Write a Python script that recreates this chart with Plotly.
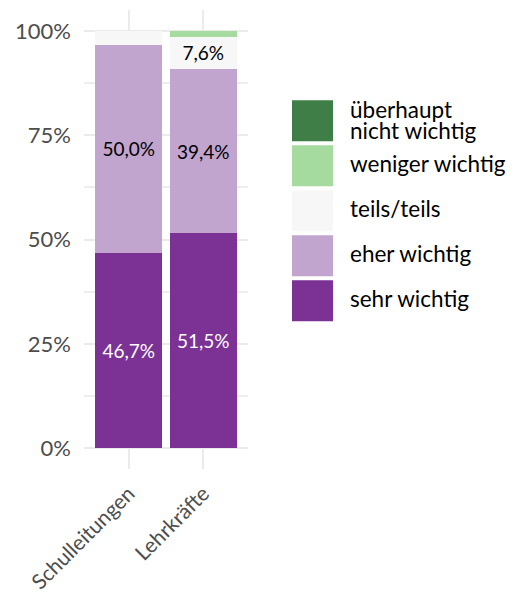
import plotly.graph_objects as go

categories = ["Schulleitungen", "Lehrkräfte"]
series_names = ["sehr wichtig", "eher wichtig", "teils/teils", "weniger wichtig", "überhaupt nicht wichtig"]
sehr_wichtig = [46.7, 51.5]
eher_wichtig = [50.0, 39.4]
teils_teils = [3.3, 7.6]
weniger_wichtig = [0.0, 1.5]
ueberhaupt_nicht = [0.0, 0.0]
series_values = [sehr_wichtig, eher_wichtig, teils_teils, weniger_wichtig, ueberhaupt_nicht]
colors = ["#7B3294", "#C2A5CF", "#F7F7F7", "#A6DBA0", "#3F7F47"]
text_colors = ["white", "black", "black", "black", "white"]
y_tick_vals = [0, 25, 50, 75, 100]
y_tick_text = ["0%", "25%", "50%", "75%", "100%"]
legend_labels = [["überhaupt", "nicht wichtig"], ["weniger wichtig"], ["teils/teils"], ["eher wichtig"], ["sehr wichtig"]]

FONT = "Lato, 'Open Sans', sans-serif"
OFF = 8  # page body margin
W, H = 519 - OFF, 602 - 2 * OFF
ML, MT = 84 - OFF, 10 - OFF
PW, PH = 164, 459
MR, MB = W - ML - PW, H - MT - PH


def fmt(v):
    return (f"{v:.1f}".replace(".", ",") + "%") if v >= 5 else ""


fig = go.Figure()
for name, vals, col, tc in zip(series_names, series_values, colors, text_colors):
    fig.add_trace(go.Bar(
        x=categories, y=vals, name=name, marker=dict(color=col, line=dict(width=0)),
        text=[fmt(v) for v in vals], textposition="inside", insidetextanchor="middle",
        textfont=dict(color=tc, size=19, family=FONT), textangle=0,
        showlegend=False, hoverinfo="skip",
    ))


def px_x(px):
    return (px - OFF - ML) / PW


def px_y(py):
    return (MT + PH - (py - OFF)) / PH


shapes = []
annotations = []
box_tops = [100, 145, 190, 235, 280]
for i, (lab_lines, col) in enumerate(zip(legend_labels, colors[::-1])):
    top = box_tops[i] + 0.3
    bot = top + 41
    shapes.append(dict(type="rect", xref="paper", yref="paper",
                       x0=px_x(292), x1=px_x(333), y0=px_y(bot), y1=px_y(top),
                       fillcolor=col, line=dict(width=0)))
    cy = (top + bot) / 2
    offsets = [-2] if len(lab_lines) == 1 else [-11, 10]
    for line, off in zip(lab_lines, offsets):
        annotations.append(dict(xref="paper", yref="paper", x=px_x(348), y=px_y(cy + off),
                                text=line, showarrow=False, xanchor="left", yanchor="middle",
                                font=dict(size=22.5, color="black", family=FONT)))

fig.update_layout(
    width=W, height=H, margin=dict(l=ML, r=MR, t=MT, b=MB, autoexpand=False),
    barmode="stack", bargap=0.1,
    plot_bgcolor="white", paper_bgcolor="white",
    font=dict(family=FONT),
    shapes=shapes, annotations=annotations,
)
fig.update_xaxes(
    range=[-0.6, 1.6], showgrid=True, gridcolor="#EBEBEB", gridwidth=2,
    tickangle=-45, tickfont=dict(size=21, color="#4D4D4D", family=FONT),
    showline=False, zeroline=False, ticks="outside", ticklen=3, tickcolor="white",
)
fig.update_yaxes(
    range=[-5, 105], tickvals=y_tick_vals, ticktext=y_tick_text,
    showgrid=True, gridcolor="#EBEBEB", gridwidth=2, zeroline=False,
    tickfont=dict(size=22, color="#4D4D4D", family=FONT), ticklabelstandoff=12,
    minor=dict(tickvals=[12.5, 37.5, 62.5, 87.5], showgrid=True, gridcolor="#EEEEEE", gridwidth=1.5),
)

fig.write_html("out.html")
